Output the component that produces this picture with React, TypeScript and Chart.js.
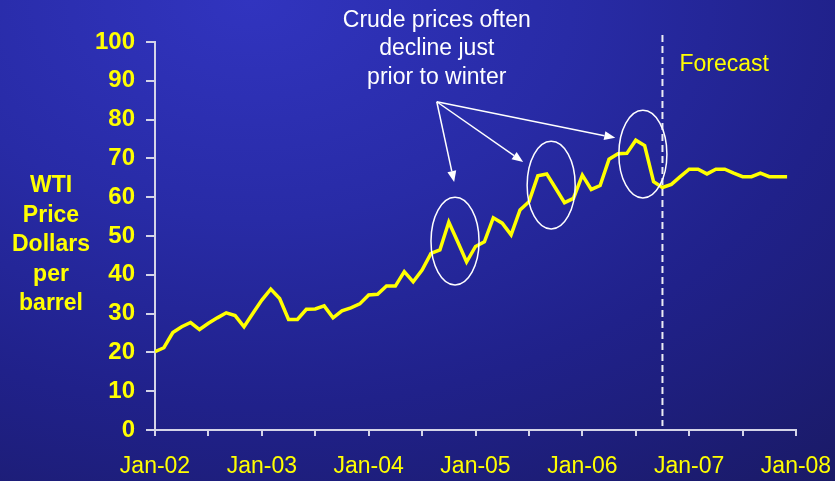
import React, { useEffect, useRef } from 'react';
import { Chart, registerables } from 'chart.js';

Chart.register(...registerables);

// ---- Data ----
const yearLabels = ['Jan-02', 'Jan-03', 'Jan-04', 'Jan-05', 'Jan-06', 'Jan-07', 'Jan-08'];
const price2002 = [20.2, 21.2, 25.1, 26.6, 27.7, 25.9, 27.5, 28.9, 30.2, 29.5, 26.6, 30.1];
const price2003 = [33.5, 36.3, 33.9, 28.5, 28.5, 31.1, 31.2, 32.0, 28.9, 30.7, 31.5, 32.5];
const price2004 = [34.8, 35.0, 37.1, 37.1, 40.8, 38.2, 41.2, 45.5, 46.4, 53.6, 48.5, 43.3];
const price2005 = [47.3, 48.5, 54.7, 53.3, 50.3, 56.7, 58.8, 65.5, 66.0, 62.3, 58.6, 59.7];
const price2006 = [65.7, 62.0, 63.0, 69.8, 71.2, 71.3, 74.7, 73.3, 64.0, 62.5, 63.3, 65.3];
const price2007 = [67.2, 67.2, 66.0, 67.2, 67.2, 66.2, 65.3, 65.3, 66.2, 65.3, 65.3, 65.3];
const wtiPrices = [...price2002, ...price2003, ...price2004, ...price2005, ...price2006, ...price2007];

const forecastStartMonth = 57; // Oct-06
const forecastLabel = 'Forecast';
const calloutLines = ['Crude prices often', 'decline just', 'prior to winter'];
const yTitleLines = ['WTI', 'Price', 'Dollars', 'per', 'barrel'];
// annotation geometry in data units (month index, $/bbl)
const ellipseCenters = [
  { x: 33.7, y: 48.7 },
  { x: 44.5, y: 63.1 },
  { x: 54.8, y: 71.1 },
];
const ellipseHalfMonths = 2.7;
const ellipseHalfDollars = 11.3;
const arrowStart = { x: 31.65, y: 84.6 };
const arrowTips = [
  { x: 33.6, y: 63.9 },
  { x: 41.35, y: 69.1 },
  { x: 51.7, y: 75.3 },
];

const YELLOW = '#ffff00';
const AXIS = '#d4d4e8';
const FONT = '"Liberation Sans", Arial, Helvetica, sans-serif';

const overlayPlugin = {
  id: 'overlay',
  afterDatasetsDraw(chart: any) {
    const { ctx, chartArea } = chart;
    const xs = chart.scales.x;
    const ys = chart.scales.y;
    ctx.save();

    // forecast dashed line
    const fx = xs.getPixelForValue(forecastStartMonth);
    ctx.strokeStyle = '#ececf4';
    ctx.lineWidth = 2;
    ctx.setLineDash([7, 4]);
    ctx.beginPath();
    ctx.moveTo(fx, chartArea.top - 7);
    ctx.lineTo(fx, chartArea.bottom - 4);
    ctx.stroke();
    ctx.setLineDash([]);

    // ellipses
    ctx.strokeStyle = '#ffffff';
    ctx.lineWidth = 1.5;
    for (const e of ellipseCenters) {
      const cx = xs.getPixelForValue(e.x);
      const cy = ys.getPixelForValue(e.y);
      const rx = Math.abs(xs.getPixelForValue(e.x + ellipseHalfMonths) - cx);
      const ry = Math.abs(ys.getPixelForValue(e.y + ellipseHalfDollars) - cy);
      ctx.beginPath();
      ctx.ellipse(cx, cy, rx, ry, 0, 0, Math.PI * 2);
      ctx.stroke();
    }

    // arrows
    const sx = xs.getPixelForValue(arrowStart.x);
    const sy = ys.getPixelForValue(arrowStart.y);
    ctx.fillStyle = '#ffffff';
    for (const t of arrowTips) {
      const tx = xs.getPixelForValue(t.x);
      const ty = ys.getPixelForValue(t.y);
      const ang = Math.atan2(ty - sy, tx - sx);
      const headLen = 11;
      const headHalf = 4.5;
      const bx = tx - headLen * Math.cos(ang);
      const by = ty - headLen * Math.sin(ang);
      ctx.lineWidth = 1.5;
      ctx.beginPath();
      ctx.moveTo(sx, sy);
      ctx.lineTo(bx, by);
      ctx.stroke();
      ctx.beginPath();
      ctx.moveTo(tx, ty);
      ctx.lineTo(bx + headHalf * Math.sin(ang), by - headHalf * Math.cos(ang));
      ctx.lineTo(bx - headHalf * Math.sin(ang), by + headHalf * Math.cos(ang));
      ctx.closePath();
      ctx.fill();
    }

    // callout text
    ctx.fillStyle = '#ffffff';
    ctx.font = `23px ${FONT}`;
    ctx.textAlign = 'center';
    ctx.textBaseline = 'alphabetic';
    calloutLines.forEach((line, i) => {
      ctx.fillText(line, sx, 27 + i * 28.3);
    });

    // forecast label
    ctx.fillStyle = YELLOW;
    ctx.textAlign = 'left';
    ctx.fillText(forecastLabel, fx + 17, 71);

    // y title
    ctx.font = `bold 23px ${FONT}`;
    ctx.textAlign = 'center';
    yTitleLines.forEach((line, i) => {
      ctx.fillText(line, 51, 192 + i * 29.5);
    });

    ctx.restore();
  },
};

export default function App() {
  const canvasRef = useRef<HTMLCanvasElement | null>(null);

  useEffect(() => {
    document.body.style.margin = '0';
    const canvas = canvasRef.current;
    if (!canvas) return;
    const points = wtiPrices.map((v, i) => ({ x: i, y: v }));
    const chart = new Chart(canvas, {
      type: 'line',
      data: {
        datasets: [
          {
            data: points,
            borderColor: YELLOW,
            borderWidth: 3.5,
            pointRadius: 0,
            tension: 0,
            fill: false,
            borderJoinStyle: 'miter',
          } as any,
        ],
      },
      options: {
        responsive: false,
        animation: false,
        layout: { padding: { top: 42, right: 39, left: 0, bottom: 0 } },
        plugins: {
          legend: { display: false },
          tooltip: { enabled: false },
          title: { display: false },
        },
        scales: {
          x: {
            type: 'linear',
            min: 0,
            max: 72,
            afterFit(scale: any) {
              scale.height = 51;
              scale.paddingLeft = 0;
              scale.paddingRight = 0;
            },
            border: { color: AXIS, width: 2 },
            grid: {
              drawOnChartArea: false,
              drawTicks: true,
              tickLength: 6,
              color: AXIS,
              lineWidth: 2,
            },
            ticks: {
              stepSize: 6,
              autoSkip: false,
              maxRotation: 0,
              padding: 17,
              color: YELLOW,
              font: { family: FONT, size: 23 },
              callback: (v: any) => (Number(v) % 12 === 0 ? yearLabels[Number(v) / 12] : ''),
            },
          },
          y: {
            min: 0,
            max: 100,
            afterFit(scale: any) {
              scale.width = 155;
              scale.paddingTop = 0;
              scale.paddingBottom = 0;
            },
            border: { color: AXIS, width: 2 },
            grid: {
              drawOnChartArea: false,
              drawTicks: true,
              tickLength: 9,
              color: AXIS,
              lineWidth: 2,
            },
            ticks: {
              stepSize: 10,
              padding: 11,
              color: YELLOW,
              font: { family: FONT, size: 24, weight: 'bold' },
            },
          },
        },
      } as any,
      plugins: [overlayPlugin],
    });
    return () => chart.destroy();
  }, []);

  return (
    <div
      style={{
        position: 'absolute',
        left: 0,
        top: 0,
        width: 835,
        height: 481,
        background:
          'radial-gradient(ellipse 110% 130% at 30% 0%, #3134bf 0%, #282ba6 35%, #20218a 65%, #1a1a66 100%)',
      }}
    >
      <canvas ref={canvasRef} width={835} height={481} style={{ display: 'block' }} />
    </div>
  );
}
